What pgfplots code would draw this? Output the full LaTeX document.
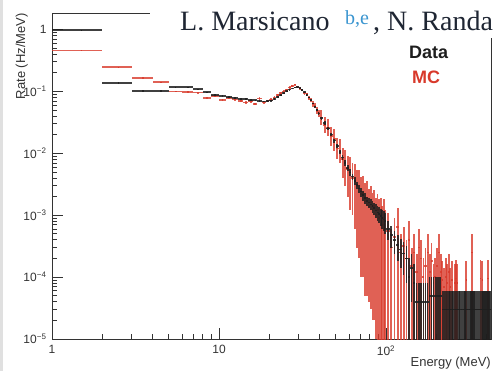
\documentclass[border=0pt]{standalone}
\usepackage{fontspec}
\setmainfont{Liberation Sans}
\newfontfamily\seriffont{Liberation Serif}
\usepackage{pgfplots}
\usepackage{pgfplotstable}
\pgfplotsset{compat=1.18}
\definecolor{datacol}{HTML}{1E1E1E}
\definecolor{mccol}{HTML}{D8392B}
\definecolor{axcol}{HTML}{333333}
\definecolor{authcol}{HTML}{1F2633}
\definecolor{supcol}{HTML}{3A95D0}

\pgfplotstableread{
x ex y ep em
1.5 0.5 0.98 0.01 0.01
2.5 0.5 0.138 0.003 0.003
3.5 0.5 0.102 0.002 0.002
4.5 0.5 0.102 0.002 0.002
5.5 0.5 0.118 0.002 0.002
6.5 0.5 0.118 0.002 0.002
7.5 0.5 0.109 0.002 0.002
8.5 0.5 0.097 0.002 0.002
9.5 0.5 0.088 0.002 0.002
10.5 0.5 0.084 0.002 0.002
11.5 0.5 0.081 0.002 0.002
12.5 0.5 0.078 0.002 0.002
13.5 0.5 0.076 0.002 0.002
14.5 0.5 0.075 0.002 0.002
15.5 0.5 0.073 0.002 0.002
16.5 0.5 0.072 0.002 0.002
17.5 0.5 0.070 0.002 0.002
18.5 0.5 0.069 0.002 0.002
19.5 0.5 0.070 0.002 0.002
20.5 0.5 0.071 0.002 0.002
21.5 0.5 0.075 0.002 0.002
22.5 0.5 0.081 0.002 0.002
23.5 0.5 0.087 0.002 0.002
24.5 0.5 0.094 0.002 0.002
25.5 0.5 0.101 0.002 0.002
26.5 0.5 0.107 0.002 0.002
27.5 0.5 0.112 0.002 0.002
28.5 0.5 0.116 0.002 0.002
29.5 0.5 0.117 0.002 0.002
30.5 0.5 0.113 0.002 0.002
31.5 0.5 0.106 0.002 0.002
32.5 0.5 0.097 0.002 0.002
33.5 0.5 0.088 0.002 0.002
34.5 0.5 0.080 0.002 0.002
35.5 0.5 0.072 0.002 0.002
36.5 0.5 0.064 0.002 0.002
37.5 0.5 0.057 0.002 0.002
38.5 0.5 0.050 0.002 0.002
39.5 0.5 0.044 0.002 0.002
41 1 0.037 0.002 0.002
43 1 0.031 0.002 0.002
45 1 0.025 0.0015 0.0015
47 1 0.020 0.0013 0.0013
49 1 0.016 0.0011 0.0011
51 1 0.0130 0.0010 0.0010
53 1 0.0105 0.0009 0.0009
55 1 0.0085 0.0008 0.0008
57 1 0.0070 0.0007 0.0007
59 1 0.0058 0.0006 0.0006
61 1 0.0049 0.0006 0.0006
63 1 0.0042 0.0005 0.0005
65 1 0.0036 0.0005 0.0005
67 1 0.0031 0.0004 0.0004
69 1 0.0027 0.0004 0.0004
71 1 0.0024 0.0004 0.0004
73 1 0.0021 0.0004 0.0004
75 1 0.0019 0.0004 0.0004
77 1 0.0017 0.0003 0.0003
79 1 0.0016 0.0003 0.0003
81 1 0.0015 0.0003 0.0003
83 1 0.0014 0.0003 0.0003
85 1 0.0013 0.0003 0.0003
87 1 0.0012 0.0003 0.0003
89 1 0.0011 0.0003 0.0003
91 1 0.00105 0.0003 0.0003
93 1 0.00098 0.0003 0.0003
95 1 0.00090 0.0003 0.0003
97 1 0.00085 0.0003 0.0003
99 1 0.00080 0.0003 0.0003
102.5 2.5 6.0e-4 2.0e-4 2.0e-4
107.5 2.5 4.8e-4 1.8e-4 1.8e-4
112.5 2.5 4.0e-4 1.6e-4 1.6e-4
117.5 2.5 3.3e-4 1.5e-4 1.5e-4
122.5 2.5 2.8e-4 1.4e-4 1.4e-4
127.5 2.5 2.4e-4 1.3e-4 1.3e-4
132.5 2.5 2.0e-4 1.2e-4 1.2e-4
137.5 2.5 1.0e-4 1.0e-4 0.95e-4
142.5 2.5 1.4e-4 1.0e-4 1.0e-4
147.5 2.5 0.8e-4 0.8e-4 0.75e-4
152.5 2.5 4e-5 4e-5 3.5e-5
157.5 2.5 4e-5 4e-5 3.5e-5
162.5 2.5 4e-5 4e-5 3.5e-5
167.5 2.5 4e-5 4e-5 3.5e-5
172.5 2.5 4e-5 4e-5 3.5e-5
177.5 2.5 4e-5 4e-5 3.5e-5
182.5 2.5 5e-5 5e-5 4.5e-5
187.5 2.5 5e-5 5e-5 4.5e-5
192.5 2.5 5e-5 5e-5 4.5e-5
197.5 2.5 5e-5 5e-5 4.5e-5
202.5 2.5 5e-5 5e-5 4.5e-5
207.5 2.5 5e-5 5e-5 4.5e-5
212.5 2.5 5e-5 5e-5 4.5e-5
217.5 2.5 3e-5 3e-5 2.5e-5
222.5 2.5 3e-5 3e-5 2.5e-5
227.5 2.5 3e-5 3e-5 2.5e-5
232.5 2.5 3e-5 3e-5 2.5e-5
237.5 2.5 3e-5 3e-5 2.5e-5
242.5 2.5 3e-5 3e-5 2.5e-5
247.5 2.5 3e-5 3e-5 2.5e-5
252.5 2.5 3e-5 3e-5 2.5e-5
257.5 2.5 3e-5 3e-5 2.5e-5
262.5 2.5 3e-5 3e-5 2.5e-5
267.5 2.5 3e-5 3e-5 2.5e-5
272.5 2.5 3e-5 3e-5 2.5e-5
277.5 2.5 3e-5 3e-5 2.5e-5
282.5 2.5 3e-5 3e-5 2.5e-5
287.5 2.5 3e-5 3e-5 2.5e-5
292.5 2.5 3e-5 3e-5 2.5e-5
297.5 2.5 3e-5 3e-5 2.5e-5
302.5 2.5 3e-5 3e-5 2.5e-5
307.5 2.5 3e-5 3e-5 2.5e-5
312.5 2.5 3e-5 3e-5 2.5e-5
317.5 2.5 3e-5 3e-5 2.5e-5
322.5 2.5 3e-5 3e-5 2.5e-5
327.5 2.5 3e-5 3e-5 2.5e-5
332.5 2.5 3e-5 3e-5 2.5e-5
337.5 2.5 3e-5 3e-5 2.5e-5
342.5 2.5 3e-5 3e-5 2.5e-5
347.5 2.5 3e-5 3e-5 2.5e-5
352.5 2.5 3e-5 3e-5 2.5e-5
357.5 2.5 3e-5 3e-5 2.5e-5
362.5 2.5 3e-5 3e-5 2.5e-5
367.5 2.5 3e-5 3e-5 2.5e-5
372.5 2.5 3e-5 3e-5 2.5e-5
377.5 2.5 3e-5 3e-5 2.5e-5
382.5 2.5 3e-5 3e-5 2.5e-5
387.5 2.5 3e-5 3e-5 2.5e-5
392.5 2.5 3e-5 3e-5 2.5e-5
397.5 2.5 3e-5 3e-5 2.5e-5
402.5 2.5 3e-5 3e-5 2.5e-5
407.5 2.5 3e-5 3e-5 2.5e-5
412.5 2.5 3e-5 3e-5 2.5e-5
417.5 2.5 3e-5 3e-5 2.5e-5
422.5 2.5 3e-5 3e-5 2.5e-5
}\datatable

\pgfplotstableread{
x ex y ep em
1.5 0.5 0.46 0.01 0.01
2.5 0.5 0.245 0.005 0.005
3.5 0.5 0.166 0.004 0.004
4.5 0.5 0.140 0.004 0.004
5.5 0.5 0.100 0.003 0.003
6.5 0.5 0.098 0.003 0.003
7.5 0.5 0.096 0.003 0.003
8.5 0.5 0.079 0.003 0.003
9.5 0.5 0.085 0.003 0.003
10.5 0.5 0.073 0.003 0.003
11.5 0.5 0.078 0.003 0.003
12.5 0.5 0.074 0.003 0.003
13.5 0.5 0.071 0.003 0.003
14.5 0.5 0.066 0.003 0.003
15.5 0.5 0.069 0.003 0.003
16.5 0.5 0.063 0.003 0.003
17.5 0.5 0.077 0.003 0.003
18.5 0.5 0.066 0.003 0.003
19.5 0.5 0.070 0.003 0.003
20.5 0.5 0.073 0.004 0.004
21.5 0.5 0.080 0.004 0.004
22.5 0.5 0.088 0.004 0.004
23.5 0.5 0.093 0.004 0.004
24.5 0.5 0.100 0.004 0.004
25.5 0.5 0.106 0.005 0.005
26.5 0.5 0.116 0.005 0.005
27.5 0.5 0.124 0.005 0.005
28.5 0.5 0.129 0.005 0.005
29.5 0.5 0.118 0.005 0.005
30.5 0.5 0.112 0.005 0.005
31.5 0.5 0.106 0.005 0.005
32.5 0.5 0.095 0.006 0.006
33.5 0.5 0.090 0.006 0.006
34.5 0.5 0.079 0.006 0.006
35.5 0.5 0.073 0.006 0.006
36.5 0.5 0.063 0.006 0.006
37.5 0.5 0.059 0.006 0.006
38.5 0.5 0.049 0.006 0.006
39.5 0.5 0.045 0.006 0.006
41 1 0.038 0.012 0.009
43 1 0.029 0.010 0.008
45 1 0.026 0.010 0.007
47 1 0.019 0.008 0.006
49 1 0.017 0.008 0.006
51 1 0.012 0.006 0.004
53 1 0.0110 0.006 0.004
55 1 0.0080 0.004 0.004
57 1 0.0075 0.004 0.0045
59 1 0.0055 0.0035 0.0035
61 1 0.0052 0.0035 0.004
63 1 0.0040 0.003 0.003
65 1 0.0038 0.003 0.0032
67 1 0.0029 0.0025 0.0026
69 1 0.0028 0.0025 0.0026
71 1 0.0022 0.002 0.0021
73 1 0.0023 0.002 0.0022
75 1 0.0017 0.0016 0.00165
77 1 0.0019 0.0017 0.00185
79 1 0.0014 0.0013 0.00136
81 1 0.0016 0.0014 0.00157
83 1 0.0012 0.0011 0.00118
85 1 0.0014 0.0012 0.00138
87 1 0.0010 0.0009 0.00099
89 1 0.0012 0.0010 0.001195
91 1 0.0009 0.0009 0.000895
93 1 0.0010 0.0009 0.000995
95 1 0.0007 0.0007 0.000695
97 1 0.0009 0.0009 0.000895
99 1 0.0006 0.0006 0.000595
102.5 2.5 5.5e-4 5.5e-4 5.45e-4
107.5 2.5 3.0e-4 3.0e-4 2.95e-4
112.5 2.5 4.5e-4 4.5e-4 4.45e-4
117.5 2.5 6.5e-4 6.5e-4 6.45e-4
122.5 2.5 2.5e-4 2.5e-4 2.45e-4
127.5 2.5 3.2e-4 3.2e-4 3.15e-4
132.5 2.5 2.0e-4 2.0e-4 1.95e-4
137.5 2.5 4.0e-4 4.0e-4 3.95e-4
142.5 2.5 1.5e-4 1.5e-4 1.45e-4
147.5 2.5 2.5e-4 2.5e-4 2.45e-4
152.5 2.5 1.2e-4 1.2e-4 1.15e-4
157.5 2.5 3.0e-4 3.0e-4 2.95e-4
162.5 2.5 2.0e-4 2.0e-4 1.95e-4
167.5 2.5 1.0e-4 1.0e-4 0.95e-4
172.5 2.5 1.5e-4 1.5e-4 1.45e-4
177.5 2.5 2.5e-4 2.5e-4 2.45e-4
182.5 2.5 1.2e-4 1.2e-4 1.15e-4
187.5 2.5 1.8e-4 1.8e-4 1.75e-4
192.5 2.5 0.8e-4 0.8e-4 0.75e-4
197.5 2.5 1.0e-4 1.0e-4 0.95e-4
202.5 2.5 1.5e-4 1.5e-4 1.45e-4
207.5 2.5 2.5e-4 2.5e-4 2.45e-4
212.5 2.5 1.2e-4 1.2e-4 1.15e-4
217.5 2.5 0.9e-4 0.9e-4 0.85e-4
222.5 2.5 0.7e-4 0.7e-4 0.65e-4
227.5 2.5 1.0e-4 1.0e-4 0.95e-4
232.5 2.5 0.8e-4 0.8e-4 0.75e-4
237.5 2.5 1.2e-4 1.2e-4 1.15e-4
242.5 2.5 0.7e-4 0.7e-4 0.65e-4
247.5 2.5 0.9e-4 0.9e-4 0.85e-4
257.5 2.5 0.8e-4 0.8e-4 0.75e-4
262.5 2.5 0.95e-4 0.95e-4 0.9e-4
267.5 2.5 0.8e-4 0.8e-4 0.75e-4
302.5 2.5 0.9e-4 0.9e-4 0.85e-4
327.5 2.5 2.5e-4 2.5e-4 2.45e-4
367.5 2.5 0.95e-4 0.95e-4 0.9e-4
377.5 2.5 0.9e-4 0.9e-4 0.85e-4
407.5 2.5 0.95e-4 0.95e-4 0.9e-4
}\mctable

\begin{document}
\begin{tikzpicture}[x=1pt,y=1pt]
\path[use as bounding box] (0,0) rectangle (494,371);
\fill[black!12] (0,0) rectangle (3,371);
\begin{axis}[
  at={(52pt,32pt)}, anchor=south west,
  scale only axis, width=439pt, height=326pt,
  xmode=log, ymode=log,
  xmin=1, xmax=425.4, ymin=1e-5, ymax=1.85,
  axis line style={draw=axcol, line width=0.9pt},
  tick align=inside,
  xtick pos=bottom, ytick pos=left,
  major tick length=11pt, minor tick length=5.5pt,
  tick style={axcol, line width=0.8pt},
  xtick={1,10,100},
  xticklabels={\mbox{1},\mbox{10},\mbox{10\textsuperscript{2}}},
  minor xtick={2,3,4,5,6,7,8,9,20,30,40,50,60,70,80,90,200,300,400},
  ytick={1e-5,1e-4,1e-3,1e-2,1e-1,1},
  yticklabels={\mbox{10\textsuperscript{−5}},\mbox{10\textsuperscript{−4}},\mbox{10\textsuperscript{−3}},\mbox{10\textsuperscript{−2}},\mbox{10\textsuperscript{−1}},\mbox{1}},
  minor ytick={2e-5,3e-5,4e-5,5e-5,6e-5,7e-5,8e-5,9e-5,2e-4,3e-4,4e-4,5e-4,6e-4,7e-4,8e-4,9e-4,2e-3,3e-3,4e-3,5e-3,6e-3,7e-3,8e-3,9e-3,2e-2,3e-2,4e-2,5e-2,6e-2,7e-2,8e-2,9e-2,0.2,0.3,0.4,0.5,0.6,0.7,0.8,0.9},
  ticklabel style={font=\fontsize{12}{14}\selectfont, text=axcol},
  xticklabel style={yshift=-3pt},
  yticklabel style={xshift=-2pt},
]
\addplot[draw=none, mark=none, error bars/.cd, x dir=both, x explicit, y dir=both, y explicit, error mark=none,
  error bar style={draw=mccol, line width=1.8pt, opacity=0.8}]
  table[x=x, y=y, x error=ex, y error plus=ep, y error minus=em] {\mctable};
\addplot[draw=none, mark=none, error bars/.cd, x dir=both, x explicit, y dir=both, y explicit, error mark=none,
  error bar style={draw=datacol, line width=1.6pt, opacity=0.85}]
  table[x=x, y=y, x error=ex, y error plus=ep, y error minus=em] {\datatable};
\end{axis}
% overlay from the page behind
\fill[white] (150,333) rectangle (494,371);
\node[anchor=base west, inner sep=0, text=authcol, font=\seriffont\fontsize{28}{30}\selectfont] at (180,340) {L. Marsicano};
\node[anchor=base west, inner sep=0, text=supcol, font=\seriffont\fontsize{20}{22}\selectfont] at (345,346) {b,e};
\node[anchor=base west, inner sep=0, text=authcol, font=\seriffont\fontsize{28}{30}\selectfont] at (373,340) {, N. Randa};
% legend
\node[anchor=base west, inner sep=0, text=datacol, font=\bfseries\fontsize{18}{20}\selectfont] at (409,312) {Data};
\node[anchor=base west, inner sep=0, text=mccol, font=\bfseries\fontsize{18}{20}\selectfont] at (412,287) {MC};
% axis titles
\node[anchor=base east, inner sep=0, text=axcol, font=\fontsize{13}{15}\selectfont] at (491,4) {Energy (MeV)};
\node[rotate=90, anchor=base east, inner sep=0, text=axcol, font=\fontsize{13}{15}\selectfont] at (25,358) {Rate (Hz/MeV)};
\end{tikzpicture}
\end{document}
